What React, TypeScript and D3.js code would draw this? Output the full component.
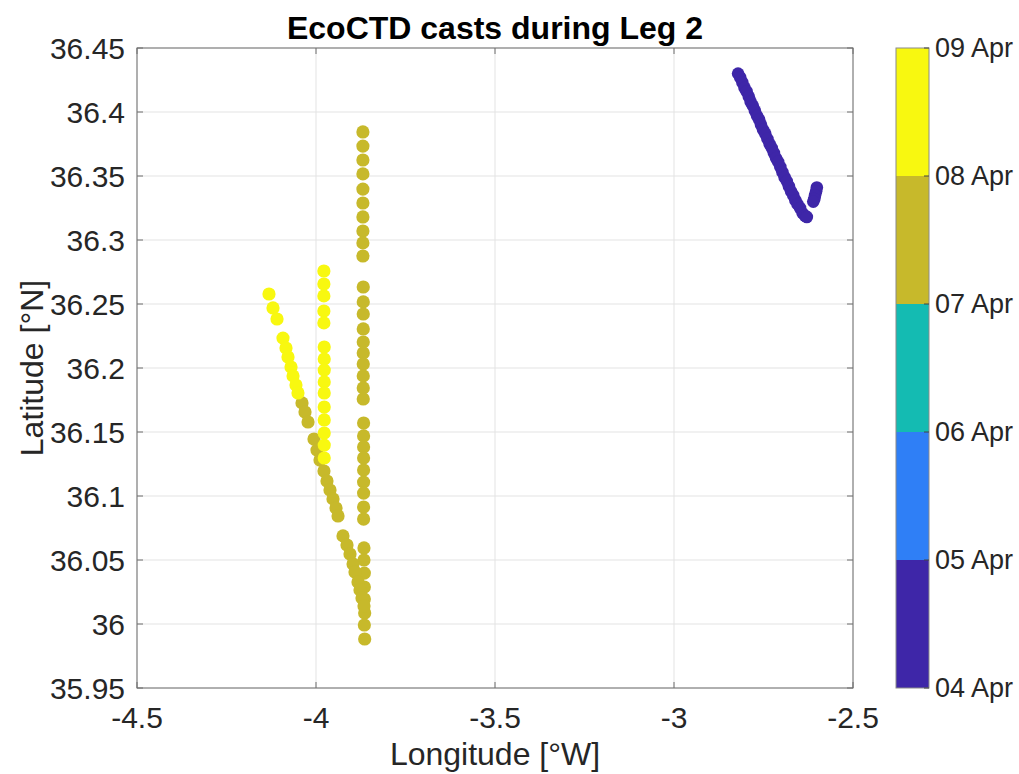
import React from "react";
import * as d3 from "d3";

// ---------- data ----------
const lonTicks = [-4.5, -4, -3.5, -3, -2.5];
const latTicks = [35.95, 36, 36.05, 36.1, 36.15, 36.2, 36.25, 36.3, 36.35, 36.4, 36.45];
const dayTicks = [4, 5, 6, 7, 8, 9];
const dayLabels = ["04 Apr", "05 Apr", "06 Apr", "07 Apr", "08 Apr", "09 Apr"];
const binColors = ["#3E26A8", "#2F7FF6", "#14BBB2", "#C7B92B", "#F8F810"];

// 04 Apr casts (NE track)
const casts04Lon = [
  -2.821, -2.815, -2.809, -2.803, -2.797, -2.791, -2.786, -2.780, -2.774, -2.768,
  -2.762, -2.757, -2.751, -2.745, -2.739, -2.733, -2.727, -2.721, -2.715, -2.709,
  -2.703, -2.697, -2.691, -2.685, -2.679, -2.673, -2.667, -2.661, -2.655, -2.648,
  -2.641, -2.634, -2.629, -2.601, -2.603, -2.606, -2.608, -2.611,
];
const casts04Lat = [
  36.430, 36.427, 36.423, 36.419, 36.416, 36.412, 36.408, 36.405, 36.401, 36.397,
  36.394, 36.390, 36.386, 36.383, 36.379, 36.375, 36.372, 36.368, 36.364, 36.361,
  36.357, 36.353, 36.349, 36.346, 36.342, 36.338, 36.335, 36.331, 36.328, 36.325,
  36.321, 36.319, 36.318, 36.341, 36.338, 36.335, 36.332, 36.330,
];
const casts04Day = 4.5;

// 07 Apr casts: meridional section
const casts07ColLon = [
  -3.869, -3.869, -3.869, -3.869, -3.869, -3.869, -3.869, -3.869, -3.869, -3.869,
  -3.868, -3.868, -3.868, -3.868, -3.868, -3.868, -3.868, -3.868, -3.868, -3.868,
  -3.867, -3.867, -3.867, -3.867, -3.867, -3.867, -3.867, -3.867, -3.867,
  -3.866, -3.866, -3.865, -3.865, -3.865, -3.864, -3.865, -3.864,
];
const casts07ColLat = [
  36.3844, 36.3734, 36.3625, 36.3516, 36.3398, 36.3289, 36.3180, 36.3070, 36.2977, 36.2875,
  36.2633, 36.2516, 36.2422, 36.2305, 36.2203, 36.2117, 36.2031, 36.1938, 36.1844, 36.1758,
  36.1570, 36.1469, 36.1383, 36.1297, 36.1203, 36.1109, 36.1023, 36.0914, 36.0820,
  36.0594, 36.0500, 36.0398, 36.0289, 36.0195, 36.0086, 35.9992, 35.9883,
];
// 07 Apr casts: diagonal section
const casts07DiagLon = [
  -4.0391, -4.0307, -4.0223, -4.0056, -3.9972, -3.9888, -3.9777, -3.9693, -3.9609, -3.9525,
  -3.9441, -3.9385, -3.9246, -3.9134, -3.9050, -3.8966, -3.8911, -3.8827, -3.8771, -3.8715,
  -3.8659,
];
const casts07DiagLat = [
  36.1727, 36.1656, 36.1578, 36.1445, 36.1359, 36.1281, 36.1195, 36.1117, 36.1047, 36.0977,
  36.0906, 36.0844, 36.0688, 36.0617, 36.0547, 36.0469, 36.0406, 36.0328, 36.0266, 36.0203,
  36.0141,
];
const casts07Day = 7.5;

// 08 Apr casts: diagonal section
const casts08DiagLon = [
  -4.1313, -4.1201, -4.1089, -4.0922, -4.0838, -4.0782, -4.0698, -4.0642, -4.0559, -4.0503,
];
const casts08DiagLat = [
  36.2578, 36.2469, 36.2383, 36.2234, 36.2156, 36.2086, 36.2008, 36.1938, 36.1867, 36.1805,
];
// 08 Apr casts: meridional section
const casts08ColLon = [
  -3.978, -3.978, -3.978, -3.978, -3.978, -3.977, -3.977, -3.977, -3.977, -3.977,
  -3.977, -3.977, -3.977, -3.977, -3.977,
];
const casts08ColLat = [
  36.2758, 36.2656, 36.2563, 36.2445, 36.2352, 36.2164, 36.2070, 36.1984, 36.1891, 36.1805,
  36.1695, 36.1594, 36.1492, 36.1398, 36.1297,
];
const casts08Day = 8.5;

// ---------- layout ----------
const W = 1019;
const H = 774;
const M = { left: 137, right: 853, top: 48, bottom: 688 };
const CB = { left: 896, right: 929 };
const FONT = "'Liberation Sans', Arial, Helvetica, sans-serif";
const TXT = "#262626";

export default function App() {
  const x = d3.scaleLinear().domain([-4.5, -2.5]).range([M.left, M.right]);
  const y = d3.scaleLinear().domain([35.95, 36.45]).range([M.bottom, M.top]);
  const cy = d3.scaleLinear().domain([4, 9]).range([M.bottom, M.top]);
  const color = d3.scaleQuantize<string>().domain([4, 9]).range(binColors);

  const groups = [
    { lon: casts04Lon, lat: casts04Lat, day: casts04Day, r: 6.3 },
    { lon: casts07ColLon, lat: casts07ColLat, day: casts07Day, r: 6.6 },
    { lon: casts07DiagLon, lat: casts07DiagLat, day: casts07Day, r: 6.6 },
    { lon: casts08ColLon, lat: casts08ColLat, day: casts08Day, r: 6.6 },
    { lon: casts08DiagLon, lat: casts08DiagLat, day: casts08Day, r: 6.6 },
  ];

  const bins = d3.range(binColors.length).map((i) => ({ lo: dayTicks[i], hi: dayTicks[i + 1], c: binColors[i] }));

  return (
    <svg width={W} height={H} style={{ position: "absolute", left: 0, top: 0, background: "#fff" }} fontFamily={FONT}>
      <rect x={0} y={0} width={W} height={H} fill="#fff" />
      {/* grid */}
      {lonTicks.map((t) => (
        <line key={"gx" + t} x1={x(t)} x2={x(t)} y1={M.top} y2={M.bottom} stroke="#e3e3e3" strokeWidth={1} />
      ))}
      {latTicks.map((t) => (
        <line key={"gy" + t} x1={M.left} x2={M.right} y1={y(t)} y2={y(t)} stroke="#e3e3e3" strokeWidth={1} />
      ))}
      {/* points */}
      {groups.map((g, gi) =>
        g.lon.map((lo, i) => (
          <circle key={gi + "-" + i} cx={x(lo)} cy={y(g.lat[i])} r={g.r} fill={color(g.day)} />
        ))
      )}
      {/* box */}
      <rect x={M.left} y={M.top} width={M.right - M.left} height={M.bottom - M.top} fill="none" stroke="#6e6e6e" strokeWidth={1} />
      {lonTicks.map((t) => (
        <g key={"tx" + t}>
          <line x1={x(t)} x2={x(t)} y1={M.bottom} y2={M.bottom - 6} stroke="#6e6e6e" />
          <line x1={x(t)} x2={x(t)} y1={M.top} y2={M.top + 6} stroke="#6e6e6e" />
          <text x={x(t)} y={728} textAnchor="middle" fontSize={30} fill={TXT}>
            {String(t)}
          </text>
        </g>
      ))}
      {latTicks.map((t) => (
        <g key={"ty" + t}>
          <line x1={M.left} x2={M.left + 6} y1={y(t)} y2={y(t)} stroke="#6e6e6e" />
          <line x1={M.right} x2={M.right - 6} y1={y(t)} y2={y(t)} stroke="#6e6e6e" />
          <text x={M.left - 12} y={y(t)} dy="0.35em" textAnchor="end" fontSize={30} fill={TXT}>
            {String(t)}
          </text>
        </g>
      ))}
      {/* title & labels */}
      <text x={(M.left + M.right) / 2} y={39} textAnchor="middle" fontSize={32} fontWeight="bold" fill="#000">
        EcoCTD casts during Leg 2
      </text>
      <text x={(M.left + M.right) / 2} y={765} textAnchor="middle" fontSize={32} fill={TXT}>
        Longitude [°W]
      </text>
      <text transform={`translate(43, ${(M.top + M.bottom) / 2}) rotate(-90)`} textAnchor="middle" fontSize={32} fill={TXT}>
        Latitude [°N]
      </text>
      {/* colorbar */}
      {bins.map((b) => (
        <rect key={"cb" + b.lo} x={CB.left} y={cy(b.hi)} width={CB.right - CB.left} height={cy(b.lo) - cy(b.hi)} fill={b.c} />
      ))}
      <rect x={CB.left} y={M.top} width={CB.right - CB.left} height={M.bottom - M.top} fill="none" stroke="#8a8a8a" strokeWidth={1} />
      {dayTicks.map((d, i) => (
        <g key={"ct" + d}>
          <line x1={CB.right} x2={CB.right - 5} y1={cy(d)} y2={cy(d)} stroke="#444" />
          <text x={CB.right + 6} y={cy(d)} dy="0.35em" fontSize={27} fill={TXT}>
            {dayLabels[i]}
          </text>
        </g>
      ))}
    </svg>
  );
}
